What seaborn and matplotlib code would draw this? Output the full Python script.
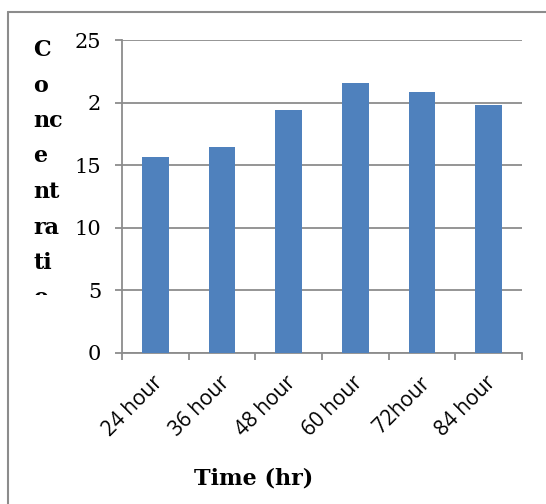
import matplotlib
matplotlib.use("Agg")
import matplotlib.pyplot as plt
import matplotlib.transforms as mtrans
import seaborn as sns
import pandas as pd
from matplotlib.lines import Line2D

# values
times = ["24 hour", "36 hour", "48 hour", "60 hour", "72hour", "84 hour"]
concentration = [15.65, 16.45, 19.4, 21.55, 20.85, 19.8]
ytick_vals = [0, 5, 10, 15, 20, 25]
ytick_text = ["0", "5", "10", "15", "2", "25"]
ylabel_lines = ["C", "o", "nc", "e", "nt", "ra", "ti", "o"]

df = pd.DataFrame({"time": times, "conc": concentration})

sns.set_style("white")
plt.rcParams["font.family"] = ["DejaVu Sans"]
plt.rcParams["text.color"] = "black"

W, H = 546, 504
fig = plt.figure(figsize=(W / 100, H / 100), dpi=100)
ax = fig.add_axes([122 / W, 1 - 353 / H, 400 / W, 313 / H])

sns.barplot(data=df, x="time", y="conc", color="#4F81BD", width=0.4,
            saturation=1, linewidth=0, ax=ax, zorder=3)

grid = "#8c8c8c"
ax.set_xlim(-0.5, 5.5)
ax.set_ylim(0, 25)
ax.set_yticks(ytick_vals)
ax.set_yticklabels(ytick_text, family="DejaVu Serif", fontsize=15)
ax.yaxis.grid(True, color=grid, lw=1.3, zorder=0)
ax.set_axisbelow(True)
for s in ["top", "right"]:
    ax.spines[s].set_visible(False)
for s in ["left", "bottom"]:
    ax.spines[s].set_color(grid)
    ax.spines[s].set_linewidth(1.3)
ax.tick_params(axis="y", length=5, width=1.3, color=grid, pad=10, left=True,
               labelcolor="black")

# category boundary ticks on the x axis
ax.set_xticks([i - 0.5 for i in range(len(times) + 1)], minor=True)
ax.tick_params(axis="x", which="minor", length=5, width=1.3, color=grid, bottom=True)
ax.tick_params(axis="x", which="major", length=0, pad=14, labelcolor="black")
ax.set_xticks(range(len(times)))
ax.set_xticklabels(times, rotation=45, ha="right", rotation_mode="anchor",
                   family="Open Sans", fontsize=15)
off = mtrans.ScaledTranslation(-3 / 100, 0, fig.dpi_scale_trans)
for lbl in ax.get_xticklabels():
    lbl.set_transform(lbl.get_transform() + off)

ax.set_xlabel("")
ax.set_ylabel("")

fig.text(254 / W, 1 - 478 / H, "Time (hr)", ha="center", va="center",
         family="DejaVu Serif", fontweight="bold", fontsize=16, color="black")

# wrapped, cut-off y label as in the original
clip = mtrans.TransformedBbox(mtrans.Bbox([[0, 1 - 295 / H], [1, 1]]), fig.transFigure)
for i, t in enumerate(ylabel_lines):
    txt = fig.text(33 / W, 1 - (50 + i * 35.5) / H, t, ha="left", va="center",
                   family="DejaVu Serif", fontweight="bold", fontsize=16,
                   color="black")
    txt.set_clip_box(clip)
    txt.set_clip_on(True)

# outer chart frame (cropped at right and bottom)
fig.add_artist(Line2D([8 / W, 1], [1 - 12 / H, 1 - 12 / H], color=grid, lw=1.5,
                      transform=fig.transFigure))
fig.add_artist(Line2D([8 / W, 8 / W], [0, 1 - 12 / H], color=grid, lw=1.5,
                      transform=fig.transFigure))

fig.savefig("out.png", dpi=100)
